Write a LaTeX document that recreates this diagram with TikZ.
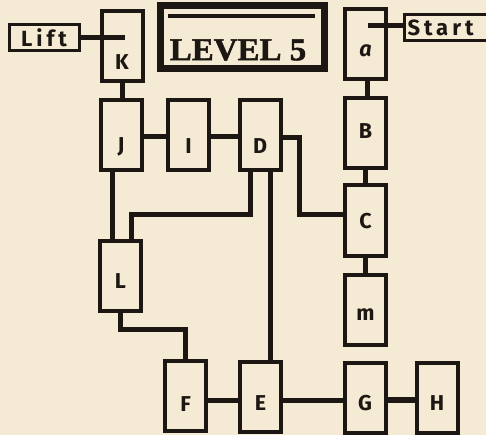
\documentclass[tikz,border=0pt]{standalone}
\usepackage{fontspec}
\setsansfont{Fira Sans}
\newfontfamily\titlefont[FakeBold=1.5]{Liberation Serif Bold}
\newfontfamily\tagfont[LetterSpace=18]{Fira Sans}
\definecolor{ink}{HTML}{1C1712}
\definecolor{paper}{HTML}{F5EBD4}
\newcommand\rl[2]{\raisebox{\dimexpr-#1pt-7.5pt\relax}[0pt][0pt]{#2}}
\begin{document}
\begin{tikzpicture}[x=1pt,y=-1pt,
  room/.style={draw=ink, line width=4pt, minimum width=41pt, minimum height=70pt, inner sep=0pt,
    font=\sffamily\bfseries\fontsize{21.5}{21.5}\selectfont, text=ink},
  tagbox/.style={draw=ink, line width=3pt, minimum height=26pt, inner ysep=0pt,
    font=\tagfont\bfseries\fontsize{22}{22}\selectfont, text=ink},
  wire/.style={draw=ink, line width=5pt}]
\fill[paper] (0,0) rectangle (486,435);
\useasboundingbox (0,0) rectangle (486,435);

% title
\node[draw=ink, line width=7pt, minimum width=164pt, minimum height=63pt] (title) at (242.5,37) {};
\node[font=\titlefont\fontsize{32}{32}\selectfont, text=ink, inner sep=0pt] (titletext) at (238,50) {\scalebox{1.03}[1]{LEVEL 5}};
\draw[ink, line width=4pt] ([xshift=11pt,yshift=-14pt]title.north west) -- ([xshift=-13pt,yshift=-14pt]title.north east);

% tags
\node[tagbox, minimum width=70pt] (Lift) at (44,38) {Lift};
\node[tagbox, anchor=west, text width=80pt, align=left, inner xsep=3pt] (Start) at (403,27.5) {Start};

% rooms
\node[room] (K) at (122,46.5) {\rl{16}{K}};
\node[room] (a) at (365.5,44) {\rl{5}{\itshape a}};
\node[room] (J) at (121,135) {\rl{10}{J}};
\node[room] (I) at (188.5,135) {\rl{11}{I}};
\node[room] (D) at (260,135) {\rl{11}{D}};
\node[room] (B) at (365.5,133.5) {\rl{-2}{B}};
\node[room] (C) at (365.5,220.5) {\rl{1}{C}};
\node[room] (m) at (365.5,309.5) {\rl{3}{m}};
\node[room] (L) at (120.5,275.5) {\rl{5}{L}};
\node[room] (F) at (185.5,395.5) {\rl{8}{F}};
\node[room] (E) at (260.5,397) {\rl{6}{E}};
\node[room] (G) at (365,397.5) {\rl{5}{G}};
\node[room] (H) at (437,397.5) {\rl{5}{H}};

\coordinate (kin) at (125,38);
\coordinate (ain) at (368,26);

% connectors
\draw[wire] (Lift.east) -- (kin);
\draw[wire] ([yshift=1.5pt]Start.west) -- (ain);
\draw[wire] (K.south) -- (K.south |- J.north);
\draw[wire] ([xshift=1.5pt]a.south) -- ([xshift=1.5pt]a.south |- B.north);
\draw[wire] (B.south) -- (B.south |- C.north);
\draw[wire] (C.south) -- (C.south |- m.north);
\draw[wire] ([yshift=-2pt]J.east) -- ([yshift=-2pt]J.east -| I.west);
\draw[wire] ([yshift=-2pt]I.east) -- ([yshift=-2pt]I.east -| D.west);
\draw[wire] ([yshift=-3pt]D.east) -- ++(17,0) |- ([yshift=5.5pt]C.west);
\draw[wire] ([xshift=-9pt]J.south) -- ([xshift=-9pt]J.south |- L.north);
\draw[wire] ([xshift=-10pt]D.south) -- ++(0,43) -| ([xshift=10.5pt]L.north);
\draw[wire] ([xshift=10pt]D.south) -- ([xshift=10pt]D.south |- E.north);
\draw[wire] (L.south) -- ++(0,17) -| (F.north);
\draw[wire] ([yshift=-4.5pt]F.east) -- ([yshift=-4.5pt]F.east -| E.west);
\draw[wire] ([yshift=-3pt]E.east) -- ([yshift=-3pt]E.east -| G.west);
\draw[wire, line width=6pt] ([yshift=-2.5pt]G.east) -- ([yshift=-2.5pt]G.east -| H.west);
\end{tikzpicture}
\end{document}
